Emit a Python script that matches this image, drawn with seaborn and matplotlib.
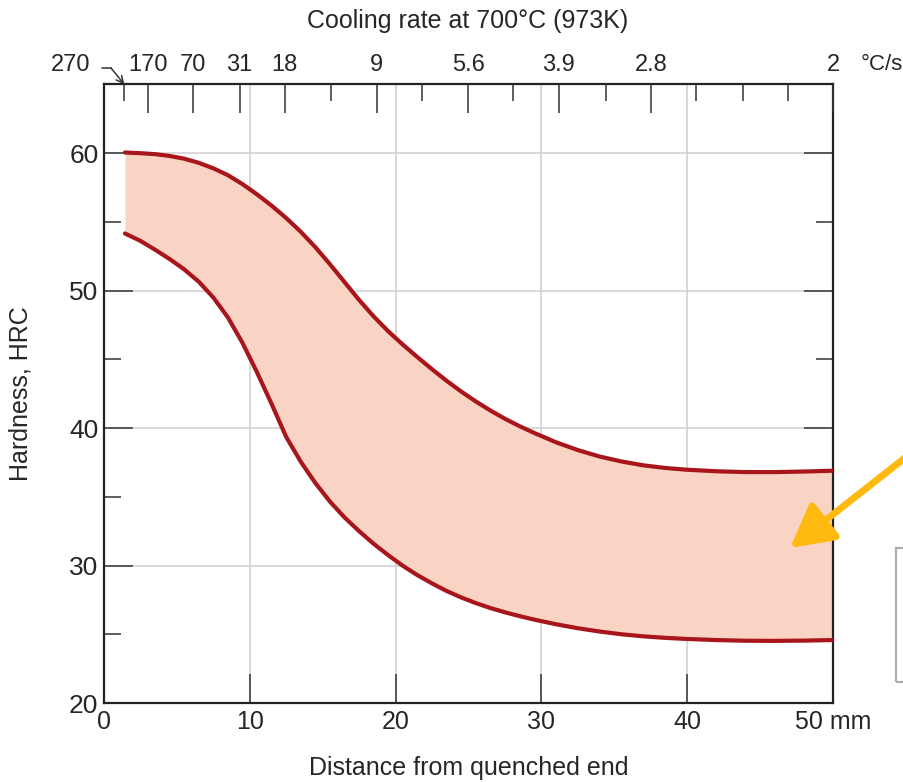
import matplotlib
matplotlib.use("Agg")
import matplotlib.pyplot as plt
from matplotlib.patches import Rectangle
import seaborn as sns
import numpy as np

# --- data (distance in mm, hardness in HRC) ---
dist_mm = [1.44, 2.5, 3.5, 4.5, 5.5, 6.5, 7.5, 8.5, 9.5, 10.5, 11.5, 12.5, 13.5, 14.5,
           15.5, 16.5, 17.5, 18.5, 19.5, 20.5, 21.5, 22.5, 23.5, 24.5, 25.5, 26.5, 27.5,
           28.5, 29.5, 31, 32.5, 34, 35.5, 37, 38.5, 40, 42, 44, 46, 48, 50]
up_hrc = [60.05, 60.0, 59.93, 59.8, 59.6, 59.3, 58.9, 58.4, 57.75, 57.0, 56.18, 55.28,
          54.28, 53.16, 51.92, 50.62, 49.32, 48.12, 47.04, 46.07, 45.16, 44.28, 43.44,
          42.66, 41.94, 41.28, 40.68, 40.14, 39.65, 38.97, 38.4, 37.93, 37.57, 37.29,
          37.1, 36.97, 36.86, 36.8, 36.8, 36.84, 36.9]
low_hrc = [54.16, 53.62, 52.98, 52.3, 51.55, 50.65, 49.5, 48.05, 46.2, 44.05, 41.75, 39.35,
           37.55, 36.0, 34.65, 33.5, 32.5, 31.58, 30.75, 29.98, 29.3, 28.7, 28.15, 27.68,
           27.27, 26.91, 26.6, 26.32, 26.07, 25.73, 25.44, 25.2, 25.0, 24.85, 24.74,
           24.66, 24.58, 24.53, 24.52, 24.54, 24.58]

# cooling rate scale on top (°C/s)
rate_pos = [3.0, 6.1, 9.3, 12.4, 18.7, 25.0, 31.2, 37.5, 50.0]
rate_labels = ['170', '70', '31', '18', '9', '5.6', '3.9', '2.8', '2']
rate_minor = [1.4, 15.55, 21.8, 28.05, 34.4, 40.6, 43.8, 46.9]

x_ticks = [0, 10, 20, 30, 40, 50]
x_labels = ['0', '10', '20', '30', '40', '50 mm']
y_ticks = [20, 30, 40, 50, 60]

line_col = '#a8151b'
fill_col = '#f9d3c3'
tick_col = '#333333'

sns.set_style("white")
plt.rcParams['font.family'] = ['Liberation Sans', 'DejaVu Sans']

fig = plt.figure(figsize=(9.04, 7.82), dpi=100)
ax = fig.add_axes([0.115, 0.101, 0.8065, 0.791])

# band between the two hardness limits
ax.fill_between(dist_mm, low_hrc, up_hrc, color=fill_col, lw=0, zorder=2)
sns.lineplot(x=dist_mm, y=up_hrc, ax=ax, color=line_col, lw=3, sort=False, zorder=3,
             solid_joinstyle='round')
sns.lineplot(x=dist_mm, y=low_hrc, ax=ax, color=line_col, lw=3, sort=False, zorder=3,
             solid_joinstyle='round')

ax.set_xlim(0, 50)
ax.set_ylim(20, 65)
ax.set_xticks(x_ticks)
ax.set_xticklabels(x_labels)
ax.set_yticks(y_ticks)
ax.set_yticks([25, 35, 45, 55, 65], minor=True)
ax.set_axisbelow(True)
ax.grid(True, which='major', color='#cfcfcf', lw=1.1)

ax.tick_params(axis='x', which='major', direction='in', length=21, width=1.1,
               color=tick_col, labelsize=18, pad=5, top=False)
ax.tick_params(axis='y', which='major', direction='in', length=21, width=1.1,
               color=tick_col, labelsize=19, pad=4, left=True, right=True)
ax.tick_params(axis='y', which='minor', direction='in', length=12, width=1.1,
               color=tick_col, left=True, right=True)
for s in ax.spines.values():
    s.set_linewidth(1.6)
    s.set_color('#222222')

ax.set_xlabel('Distance from quenched end', fontsize=18)
ax.xaxis.set_label_coords(0.5, -0.085)
ax.xaxis.label.set_va('top')
ax.set_ylabel('Hardness, HRC', fontsize=18)
ax.yaxis.set_label_coords(-0.098, 0.5)

# --- top axis: cooling rate ---
ax2 = ax.twiny()
ax2.set_xlim(0, 50)
ax2.set_xticks(rate_pos)
ax2.set_xticklabels(rate_labels)
ax2.set_xticks(rate_minor, minor=True)
ax2.tick_params(axis='x', which='major', direction='in', length=21, width=1.1,
                color=tick_col, labelsize=17, pad=6)
ax2.tick_params(axis='x', which='minor', direction='in', length=12, width=1.1,
                color=tick_col)
for s in ax2.spines.values():
    s.set_visible(False)
ax2.grid(False)

ax.text(-2.3, 66.45, '270', fontsize=17, ha='center', va='center', clip_on=False)
ax.plot([-0.14, 0.48], [66.2, 66.2], color=tick_col, lw=1.1, clip_on=False)
ax.annotate('', xy=(1.4, 65.0), xytext=(0.48, 66.2), annotation_clip=False,
            arrowprops=dict(arrowstyle='->,head_length=0.5,head_width=0.25',
                            color=tick_col, lw=1.1, shrinkA=0, shrinkB=0))
fig.text(861 / 904, 1 - 65 / 782, '°C/s', fontsize=16, ha='left', va='center')
fig.text(468 / 904, 1 - 21 / 782, 'Cooling rate at 700°C (973K)', fontsize=18,
         ha='center', va='center')

# orange pointer arrow and the clipped box at the right edge
ax.annotate('', xy=(47.05, 31.27), xycoords='data',
            xytext=(915 / 904, 1 - 450 / 782), textcoords='figure fraction',
            annotation_clip=False,
            arrowprops=dict(arrowstyle='-|>,head_length=1.3,head_width=0.7',
                            color='#ffb90f', lw=5, shrinkA=0, shrinkB=0,
                            mutation_scale=20))
fig.add_artist(Rectangle((896 / 904, 100 / 782), 0.05, 134 / 782,
                         transform=fig.transFigure, fill=False,
                         ec='#aaaaaa', lw=1.5))

fig.savefig('out.png', dpi=100)
